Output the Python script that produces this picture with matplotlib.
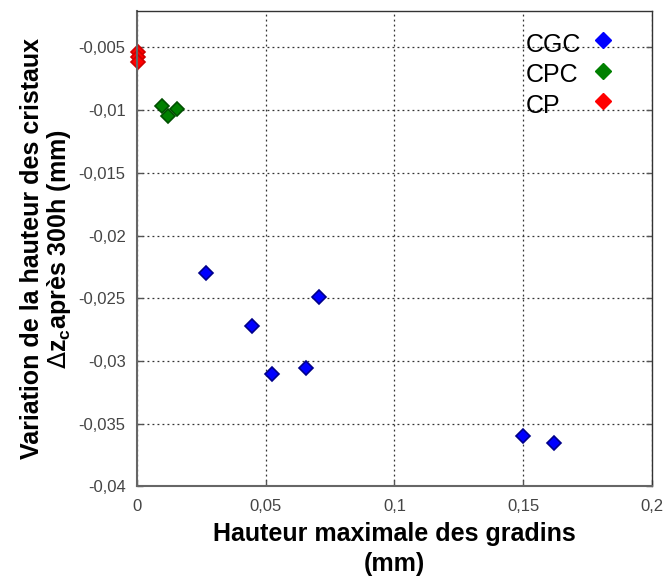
import matplotlib
matplotlib.use("Agg")
import matplotlib.pyplot as plt
from matplotlib.ticker import FixedLocator, FixedFormatter

plt.rcParams['font.family'] = ['Liberation Sans', 'DejaVu Sans']

# Donnees
cgc_x = [0.0268, 0.0447, 0.0525, 0.0658, 0.0708, 0.150, 0.162]
cgc_y = [-0.0230, -0.0272, -0.0310, -0.0306, -0.0249, -0.0360, -0.0365]

cpc_x = [0.0097, 0.0120, 0.0157]
cpc_y = [-0.0097, -0.0105, -0.0099]

cp_x = [0.0003, 0.0003, 0.0003]
cp_y = [-0.0054, -0.0058, -0.0062]

series = [("CGC", cgc_x, cgc_y, '#0000ff', '#00008a'),
          ("CPC", cpc_x, cpc_y, '#008000', '#005000'),
          ("CP", cp_x, cp_y, '#ff0000', '#d00000')]

xticks = [0, 0.05, 0.1, 0.15, 0.2]
xticklabels = ["0", "0,05", "0,1", "0,15", "0,2"]
yticks = [-0.04, -0.035, -0.03, -0.025, -0.02, -0.015, -0.01, -0.005]
yticklabels = ["-0,04", "-0,035", "-0,03", "-0,025", "-0,02", "-0,015", "-0,01", "-0,005"]

fig = plt.figure(figsize=(6.64, 5.77), dpi=100)
ax = fig.add_axes([0.206, 0.157, 0.776, 0.824])

for name, xs, ys, fc, ec in series:
    ax.plot(xs, ys, 'D', color=fc, mec=ec, mew=1.2, ms=7, clip_on=False)

ax.set_xlim(0, 0.2)
ax.set_ylim(-0.04, -0.0021)
ax.xaxis.set_major_locator(FixedLocator(xticks))
ax.xaxis.set_major_formatter(FixedFormatter(xticklabels))
ax.yaxis.set_major_locator(FixedLocator(yticks))
ax.yaxis.set_major_formatter(FixedFormatter(yticklabels))

ax.grid(True, linestyle=(0, (1.5, 2.5)), color='#333333', linewidth=0.9)
ax.set_axisbelow(True)

ax.tick_params(direction='in', length=4, width=1, colors='#555555',
               labelcolor='#444444', labelsize=12, top=False, right=True)
ax.tick_params(axis='y', pad=8)
ax.tick_params(axis='x', pad=9)

for s in ['left', 'bottom']:
    ax.spines[s].set_color('#666666')
    ax.spines[s].set_linewidth(1.5)
for s in ['top', 'right']:
    ax.spines[s].set_color('#333333')
    ax.spines[s].set_linewidth(1.0)

ax.set_xlabel("Hauteur maximale des gradins\n(mm)", fontsize=18, fontweight='bold',
              labelpad=6, linespacing=1.3)
ax.set_ylabel("Variation de la hauteur des cristaux\n$\\Delta$z$_\\mathregular{c}$après 300h (mm)",
              fontsize=18, fontweight='bold', labelpad=4, linespacing=1.05)

# legende : texte a gauche, losange a droite
for i, (name, xs, ys, fc, ec) in enumerate(series):
    yy = 0.929 - i * 0.064
    ax.text(0.755, yy, name, transform=ax.transAxes, fontsize=18,
            ha='left', va='center')
    ax.plot([0.905], [yy + 0.009], 'D', color=fc, mec=fc, ms=8, transform=ax.transAxes,
            clip_on=False)

fig.savefig("out.png", dpi=100)
